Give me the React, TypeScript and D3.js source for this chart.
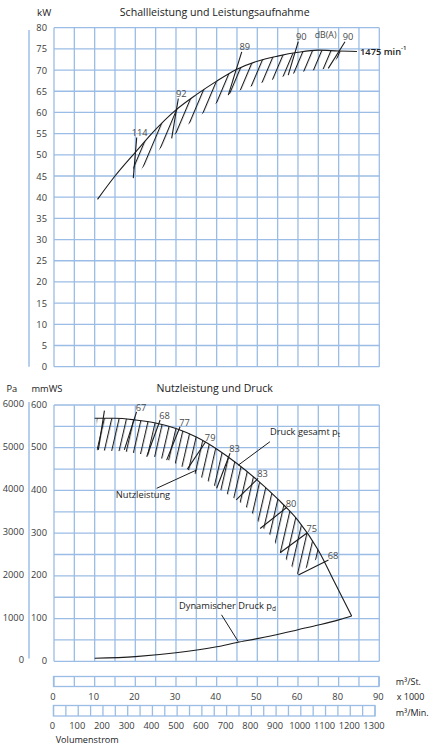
import * as d3 from "d3";

// volume flow in 1000 m³/h, power in kW
const powerCurve: [number, number][] = [
  [10.7, 39.5], [15, 45], [20, 50.6], [25, 56], [30, 60.6], [35, 64.2], [40, 67.4],
  [45, 70.2], [50, 72.1], [55, 73.3], [60, 74.2], [65, 74.7], [70, 74.5], [74.5, 74.4],
];
// lower edge of the hatched band (sound power)
const powerHatchEdge: [number, number][] = [
  [19.5, 44.5], [22.4, 47.6], [28.5, 53.9], [35.5, 59], [42.9, 64.3], [50.7, 66.9],
  [60, 69.5], [67.2, 70.4], [71.5, 74.5],
];
// dB(A) markers
const soundMarkers = [
  { label: "114", x1: 20.34, y1: 54.1, x2: 19.5, y2: 44.5 },
  { label: "92", x1: 30.57, y1: 63.3, x2: 28.94, y2: 53.9 },
  { label: "89", x1: 46.16, y1: 74.3, x2: 42.86, y2: 64.1 },
  { label: "90", x1: 60.07, y1: 76.7, x2: 57.6, y2: 68.8 },
  { label: "90", x1: 71.56, y1: 76.7, x2: 67.45, y2: 70.4 },
];

// pressure in mmWS
const totalPressure: [number, number][] = [
  [10, 569], [15, 569], [20, 565], [25, 558], [30, 545], [35, 525], [40, 497],
  [45, 463], [50, 424], [55, 380], [60, 330], [65, 260], [69, 185], [73.2, 106],
];
const dynamicPressure: [number, number][] = [
  [10, 7], [20, 11], [30, 20], [40, 34], [45, 44], [50, 53], [56, 65],
  [60, 74], [65, 85], [70, 97], [73.2, 106],
];
const pressureHatchEdge: [number, number][] = [
  [10.5, 494], [17, 492], [22.8, 483], [28.1, 471], [32.6, 450], [37.5, 424],
  [41.6, 397], [44.9, 378], [48.2, 354], [51.1, 315], [53.5, 292], [55.6, 256],
  [60.1, 202], [65.2, 245],
];
// efficiency markers
const effMarkers = [
  { label: "", x1: 12.4, y1: 587, x2: 10.9, y2: 495 },
  { label: "67", x1: 20.3, y1: 584, x2: 17.3, y2: 495 },
  { label: "68", x1: 26.1, y1: 565, x2: 22.8, y2: 479 },
  { label: "77", x1: 31, y1: 549, x2: 27.7, y2: 471 },
  { label: "79", x1: 37.3, y1: 514, x2: 32.8, y2: 450 },
  { label: "83", x1: 43.3, y1: 487, x2: 40, y2: 405 },
  { label: "83", x1: 50.2, y1: 428, x2: 44.8, y2: 378 },
  { label: "80", x1: 57.2, y1: 360, x2: 50.7, y2: 311 },
  { label: "75", x1: 62.3, y1: 301, x2: 55.6, y2: 254 },
  { label: "68", x1: 67.5, y1: 237, x2: 60.1, y2: 202 },
];

const kwTicks = [0, 5, 10, 15, 20, 25, 30, 35, 40, 45, 50, 55, 60, 65, 70, 75, 80];
const mmwsTicks = [0, 100, 200, 300, 400, 500, 600];
const paTicks = [0, 1000, 2000, 3000, 4000, 5000, 6000];
const flowTicks = [0, 10, 20, 30, 40, 50, 60, 70, 80];
const flowTickLabels = ["0", "10", "20", "30", "40", "50", "60", "80", "90"];
const minTicks = [0, 100, 200, 300, 400, 500, 600, 700, 800, 900, 1000, 1100, 1200, 1300];

const FONT = "'Open Sans', 'Noto Sans', sans-serif";
const GRID = "#9bbde5";
const INK = "#1c1c1c";
const TXT = "#3a3a3a";

export default function App() {
  const x = d3.scaleLinear().domain([0, 80]).range([54, 379.3]);
  const yTop = d3.scaleLinear().domain([0, 80]).range([366.7, 27.7]);
  const yBot = d3.scaleLinear().domain([0, 600]).range([661.3, 405]);
  const yPa = d3.scaleLinear().domain([0, 6000]).range([661.3, 405]);
  const xMin = d3.scaleLinear().domain([0, 1300]).range([53.5, 375]);

  const gridX = d3.range(0, 80.1, 5);
  const gridKw = d3.range(0, 80.1, 5);
  const gridMm = d3.range(0, 600.1, 50);
  const minCells = d3.range(0, 1300.1, 50);

  const lineTop = d3.line<[number, number]>().x((d) => x(d[0])).y((d) => yTop(d[1])).curve(d3.curveMonotoneX);
  const lineBot = d3.line<[number, number]>().x((d) => x(d[0])).y((d) => yBot(d[1])).curve(d3.curveMonotoneX);

  const underTop = d3.area<[number, number]>().x((d) => x(d[0])).y0(yTop(0)).y1((d) => yTop(d[1])).curve(d3.curveMonotoneX);
  const aboveTop = d3.area<[number, number]>().x((d) => x(d[0])).y0((d) => yTop(d[1])).y1(yTop(80));
  const underBot = d3.area<[number, number]>().x((d) => x(d[0])).y0(yBot(0)).y1((d) => yBot(d[1])).curve(d3.curveMonotoneX);
  const aboveBot = d3.area<[number, number]>().x((d) => x(d[0])).y0((d) => yBot(d[1])).y1(yBot(600));

  const tick = { fontFamily: FONT, fontSize: 9.3, fill: TXT } as const;

  return (
    <svg width={431} height={745} style={{ position: "absolute", left: 0, top: 0, display: "block", background: "#fff" }}>
      <defs>
        <pattern id="hatchTop" width={8.5} height={10} patternUnits="userSpaceOnUse" patternTransform="rotate(23)">
          <line x1={1.5} y1={-1} x2={1.5} y2={11} stroke="#111" strokeWidth={1.05} />
        </pattern>
        <pattern id="hatchBot" width={7.2} height={10} patternUnits="userSpaceOnUse" patternTransform="rotate(13)">
          <line x1={1.5} y1={-1} x2={1.5} y2={11} stroke="#111" strokeWidth={1.05} />
        </pattern>
        <clipPath id="underTop"><path d={underTop(powerCurve) ?? ""} /></clipPath>
        <clipPath id="aboveTop"><path d={aboveTop(powerHatchEdge) ?? ""} /></clipPath>
        <clipPath id="underBot"><path d={underBot(totalPressure) ?? ""} /></clipPath>
        <clipPath id="aboveBot"><path d={aboveBot(pressureHatchEdge) ?? ""} /></clipPath>
      </defs>

      {/* ---------- top chart: Schallleistung und Leistungsaufnahme ---------- */}
      <text x={214.7} y={12.3} dominantBaseline="central" textAnchor="middle" fontFamily={FONT} fontSize={10.6} fill="#222">
        Schallleistung und Leistungsaufnahme
      </text>
      <text x={37} y={12.3} dominantBaseline="central" fontFamily={FONT} fontSize={9.8} fill="#222">kW</text>
      <line x1={29} x2={29} y1={30} y2={yTop(0)} stroke="#b7cfee" strokeWidth={2} />

      {gridX.map((v) => (
        <line key={"tx" + v} x1={x(v)} x2={x(v)} y1={yTop(80)} y2={yTop(0)} stroke={GRID} strokeWidth={1.3} />
      ))}
      {gridKw.map((v) => (
        <line key={"ty" + v} x1={x(0)} x2={x(80)} y1={yTop(v)} y2={yTop(v)} stroke={GRID} strokeWidth={1.3} />
      ))}
      {kwTicks.map((v) => (
        <text key={"tl" + v} x={47} y={yTop(v)} textAnchor="end" dominantBaseline="central" {...tick}>{v}</text>
      ))}

      <g clipPath="url(#aboveTop)">
        <g clipPath="url(#underTop)">
          <rect x={x(0)} y={yTop(80)} width={x(80) - x(0)} height={yTop(0) - yTop(80)} fill="url(#hatchTop)" />
        </g>
      </g>
      <path d={lineTop(powerCurve) ?? ""} fill="none" stroke={INK} strokeWidth={1.1} />
      {soundMarkers.map((m, i) => (
        <g key={"sm" + i}>
          <line x1={x(m.x1)} y1={yTop(m.y1)} x2={x(m.x2)} y2={yTop(m.y2)} stroke={INK} strokeWidth={1.1} />
          <text x={x(m.x1) + 3} y={yTop(m.y1) - 5} textAnchor="middle" dominantBaseline="central" {...tick} fill="#4a4a4a">{m.label}</text>
        </g>
      ))}
      <text x={x(66.8)} y={yTop(78.3)} textAnchor="middle" dominantBaseline="central" {...tick} fontSize={8.8} fill="#4a4a4a">dB(A)</text>
      <text x={360} y={yTop(74.4) + 0.5} dominantBaseline="central" fontFamily={FONT} fontSize={9.3} fontWeight={600} fill="#222">
        1475 min<tspan dy={-3.5} fontSize={6}>-1</tspan>
      </text>

      {/* ---------- bottom chart: Nutzleistung und Druck ---------- */}
      <text x={214.7} y={388.3} dominantBaseline="central" textAnchor="middle" fontFamily={FONT} fontSize={10.6} fill="#222">
        Nutzleistung und Druck
      </text>
      <text x={6.5} y={388.3} dominantBaseline="central" fontFamily={FONT} fontSize={9.3} fill="#222">Pa</text>
      <text x={31.5} y={388.3} dominantBaseline="central" fontFamily={FONT} fontSize={9.3} fill="#222">mmWS</text>
      <line x1={29} x2={29} y1={402} y2={658.5} stroke="#b7cfee" strokeWidth={2} />

      {gridX.map((v) => (
        <line key={"bx" + v} x1={x(v)} x2={x(v)} y1={yBot(600)} y2={yBot(0)} stroke={GRID} strokeWidth={1.3} />
      ))}
      {gridMm.map((v) => (
        <line key={"by" + v} x1={x(0)} x2={x(80)} y1={yBot(v)} y2={yBot(v)} stroke={GRID} strokeWidth={1.3} />
      ))}
      {mmwsTicks.map((v) => (
        <text key={"bl" + v} x={47} y={yBot(v) - 1} textAnchor="end" dominantBaseline="central" {...tick}>{v}</text>
      ))}
      {paTicks.map((v) => (
        <text key={"pl" + v} x={24} y={yPa(v) - 1.5} textAnchor="end" dominantBaseline="central" {...tick}>{v}</text>
      ))}

      <g clipPath="url(#aboveBot)">
        <g clipPath="url(#underBot)">
          <rect x={x(0)} y={yBot(600)} width={x(80) - x(0)} height={yBot(0) - yBot(600)} fill="url(#hatchBot)" />
        </g>
      </g>
      <path d={lineBot(totalPressure) ?? ""} fill="none" stroke={INK} strokeWidth={1.1} />
      <path d={lineBot(dynamicPressure) ?? ""} fill="none" stroke={INK} strokeWidth={1.1} />
      {effMarkers.map((m, i) => (
        <g key={"em" + i}>
          <line x1={x(m.x1)} y1={yBot(m.y1)} x2={x(m.x2)} y2={yBot(m.y2)} stroke={INK} strokeWidth={1.1} />
          <text x={x(m.x1) + 4.5} y={yBot(m.y1) - 4.5} textAnchor="middle" dominantBaseline="central" {...tick} fill="#4a4a4a">{m.label}</text>
        </g>
      ))}

      {/* curve labels with leaders */}
      <line x1={x(53.1)} y1={yBot(514)} x2={x(45.3)} y2={yBot(459)} stroke={INK} strokeWidth={1} />
      <text x={x(53.1)} y={yBot(537)} dominantBaseline="central" fontFamily={FONT} fontSize={9.3} fill="#222">
        Druck gesamt p<tspan dy={2.5} fontSize={6.5}>t</tspan>
      </text>
      <line x1={x(25.25)} y1={yBot(405)} x2={x(35.1)} y2={yBot(448)} stroke={INK} strokeWidth={1} />
      <text x={115.7} y={494} dominantBaseline="central" fontFamily={FONT} fontSize={9.3} fill="#222">Nutzleistung</text>
      <line x1={x(41.2)} y1={yBot(108.8)} x2={x(45.3)} y2={yBot(46.3)} stroke={INK} strokeWidth={1} />
      <text x={179} y={605.7} dominantBaseline="central" fontFamily={FONT} fontSize={9.3} fill="#222">
        Dynamischer Druck p<tspan dy={2.5} fontSize={6.5}>d</tspan>
      </text>

      {/* ---------- volume flow scales ---------- */}
      <rect x={x(0) - 0.5} y={676.5} width={x(80) - x(0)} height={10} fill="none" stroke={GRID} strokeWidth={1.3} />
      {gridX.map((v) => (
        <line key={"sx" + v} x1={x(v)} x2={x(v)} y1={676.5} y2={686.5} stroke={GRID} strokeWidth={1.3} />
      ))}
      {flowTicks.map((v, i) => (
        <text key={"fl" + v} x={x(v) - 1} y={696.7} textAnchor="middle" dominantBaseline="central" {...tick}>{flowTickLabels[i]}</text>
      ))}
      <rect x={xMin(0)} y={705.5} width={xMin(1300) - xMin(0)} height={10.5} fill="none" stroke={GRID} strokeWidth={1.3} />
      {minCells.map((v) => (
        <line key={"mx" + v} x1={xMin(v)} x2={xMin(v)} y1={705.5} y2={716} stroke={GRID} strokeWidth={1.3} />
      ))}
      {minTicks.map((v) => (
        <text key={"ml" + v} x={xMin(v) - 1} y={725} textAnchor="middle" dominantBaseline="central" {...tick}>{v}</text>
      ))}
      <text x={395.7} y={681.7} dominantBaseline="central" {...tick} fontSize={9} fill="#222">m³/St.</text>
      <text x={396.7} y={696.7} dominantBaseline="central" {...tick} fontSize={9} fill="#222">x 1000</text>
      <text x={395.7} y={712.7} dominantBaseline="central" {...tick} fontSize={9} fill="#222">m³/Min.</text>
      <text x={55.7} y={739} dominantBaseline="central" fontFamily={FONT} fontSize={9.1} fill="#222">Volumenstrom</text>
    </svg>
  );
}
